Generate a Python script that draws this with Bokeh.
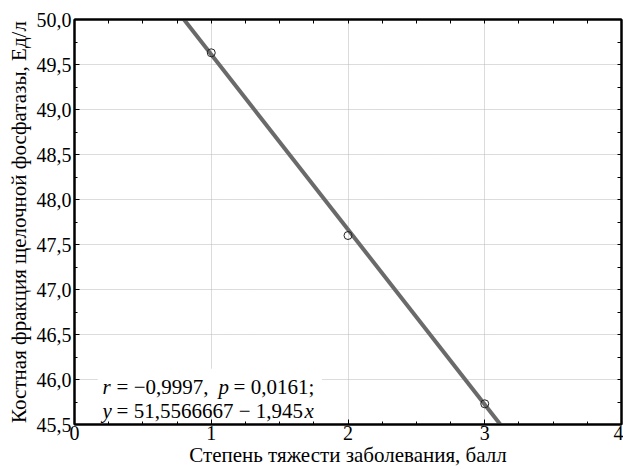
from bokeh.plotting import figure
from bokeh.models import Range1d, LinearAxis, FixedTicker, Label, BoxAnnotation
from bokeh.embed import file_html
from bokeh.resources import INLINE

# ---- data ----
severity = [1, 2, 3]
alp_bone = [49.63, 47.60, 45.73]
intercept = 51.5566667
slope = -1.945
line_x = [0, 4]
line_y = [intercept + slope * xv for xv in line_x]

x_ticks = [0, 1, 2, 3, 4]
x_tick_labels = ["0", "1", "2", "3", "4"]
x_minor = [0.25, 0.5, 0.75, 1.25, 1.5, 1.75, 2.25, 2.5, 2.75, 3.25, 3.5, 3.75]
y_ticks = [45.5, 46.0, 46.5, 47.0, 47.5, 48.0, 48.5, 49.0, 49.5, 50.0]
y_tick_labels = ["45,5", "46,0", "46,5", "47,0", "47,5", "48,0", "48,5", "49,0", "49,5", "50,0"]
y_minor = [45.75, 46.25, 46.75, 47.25, 47.75, 48.25, 48.75, 49.25, 49.75]

x_label = "Степень тяжести заболевания, балл"
y_label = "Костная фракция щелочной фосфатазы, Ед/л"

# text pieces: (text, style, pixel offset within line)
stat_line1 = [("r", "italic", 0), ("= −0,9997,", "normal", 14), ("p", "italic", 116), ("= 0,0161;", "normal", 131)]
stat_line2 = [("y", "italic", 0), ("= 51,5566667 − 1,945", "normal", 14), ("x", "italic", 202)]

FONT = "Liberation Serif"

p = figure(width=623, height=469, output_backend="svg", toolbar_location=None,
           x_range=Range1d(0, 4), y_range=Range1d(45.5, 50.0),
           min_border_left=74, min_border_right=2, min_border_top=19, min_border_bottom=45)
p.background_fill_color = "white"
p.border_fill_color = "white"
p.outline_line_color = "black"
p.outline_line_width = 2

xt = FixedTicker(ticks=x_ticks, minor_ticks=x_minor)
yt = FixedTicker(ticks=y_ticks, minor_ticks=y_minor)

for ax, ticker, labels, ticks in ((p.xaxis[0], xt, x_tick_labels, x_ticks), (p.yaxis[0], yt, y_tick_labels, y_ticks)):
    ax.ticker = ticker
    ax.major_label_overrides = {t: l for t, l in zip(ticks, labels)}
    ax.major_tick_in = 5
    ax.major_tick_out = 0
    ax.minor_tick_in = 3
    ax.minor_tick_out = 0
    ax.axis_line_color = "black"
    ax.axis_line_width = 2
    ax.major_tick_line_color = "black"
    ax.minor_tick_line_color = "black"
    ax.major_label_text_font = FONT
    ax.major_label_text_font_size = "20px"
    ax.major_label_text_color = "black"
    ax.axis_label_text_font = FONT
    ax.axis_label_text_font_size = "21px"
    ax.axis_label_text_font_style = "normal"
    ax.axis_label_text_color = "black"

p.xaxis[0].axis_label = x_label
p.yaxis[0].axis_label = y_label
p.xaxis[0].major_label_standoff = 1
p.xaxis[0].axis_label_standoff = 0
p.yaxis[0].major_label_standoff = 3
p.yaxis[0].axis_label_standoff = 3

top_ax = LinearAxis(ticker=FixedTicker(ticks=[], minor_ticks=x_ticks + x_minor))
right_ax = LinearAxis(ticker=FixedTicker(ticks=[], minor_ticks=y_ticks + y_minor))
for ax in (top_ax, right_ax):
    ax.minor_tick_in = 4
    ax.minor_tick_out = 0
    ax.axis_line_color = "black"
    ax.axis_line_width = 2
    ax.minor_tick_line_color = "black"
p.add_layout(top_ax, "above")
p.add_layout(right_ax, "right")

p.xgrid.ticker = xt
p.ygrid.ticker = yt
for g in (p.xgrid[0], p.ygrid[0]):
    g.grid_line_color = "#b8b8b8"
    g.grid_line_dash = "1 1"
    g.grid_line_width = 1

p.line(line_x, line_y, line_color="#6a6a6a", line_width=4)
p.scatter(severity, alp_bone, marker="circle", size=8, fill_color="white", fill_alpha=0.0,
          line_color="#222222", line_width=1)

# white backing behind the statistics text (hides grid like in the original)
p.add_layout(BoxAnnotation(left=0.17, right=1.81, bottom=45.59, top=46.12,
                           fill_color="white", fill_alpha=1.0, line_alpha=0.0))

for txt, style, off in stat_line1:
    p.add_layout(Label(x=0.205, y=45.912, x_offset=off, text=txt, text_font=FONT, text_font_size="21px",
                       text_font_style=style, text_color="black", text_baseline="alphabetic"))
for txt, style, off in stat_line2:
    p.add_layout(Label(x=0.205, y=45.645, x_offset=off, text=txt, text_font=FONT, text_font_size="21px",
                       text_font_style=style, text_color="black", text_baseline="alphabetic"))

open("out.html", "w").write(file_html(p, INLINE))
